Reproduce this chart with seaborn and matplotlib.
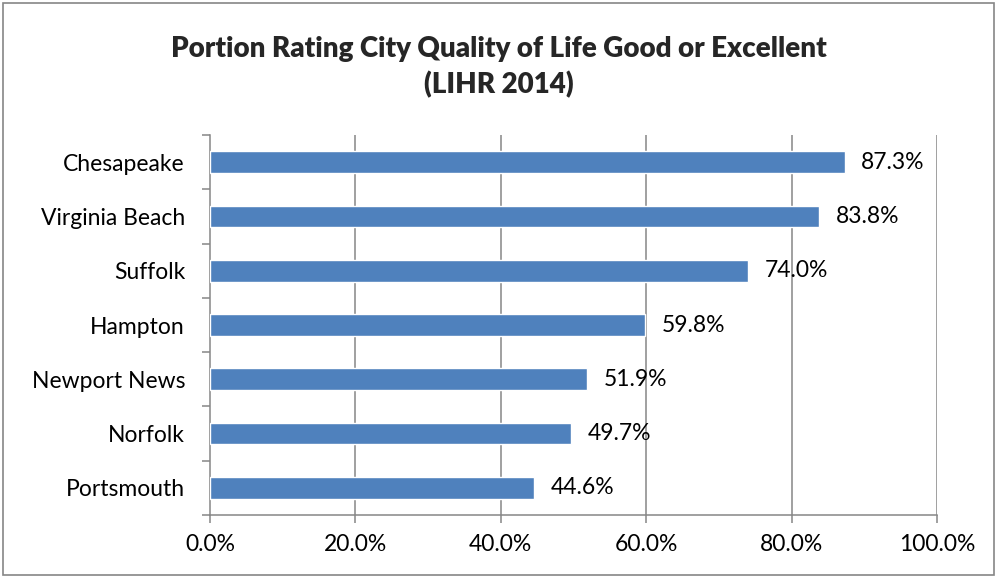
import pandas as pd
import numpy as np
import matplotlib
matplotlib.use('Agg')
import matplotlib.pyplot as plt
from matplotlib.patches import Rectangle
from matplotlib.ticker import FixedLocator, PercentFormatter
import seaborn as sns

# Data
cities = ['Chesapeake', 'Virginia Beach', 'Suffolk', 'Hampton',
          'Newport News', 'Norfolk', 'Portsmouth']
pct_good = [87.3, 83.8, 74.0, 59.8, 51.9, 49.7, 44.6]
x_ticks = [0, 20, 40, 60, 80, 100]

df = pd.DataFrame({'city': cities, 'pct': pct_good})

sns.set_theme(style='white')
plt.rcParams['font.family'] = ['Lato', 'DejaVu Sans']

bar_color = '#4F81BD'
grid_color = '#868686'

fig = plt.figure(figsize=(9.97, 5.78), dpi=100)
ax = fig.add_axes([210 / 997, 63 / 578, 727 / 997, 380 / 578])

sns.barplot(data=df, x='pct', y='city', orient='h', color=bar_color,
            width=0.4, saturation=1, ax=ax, zorder=3)

ax.set_xlim(0, 100)
ax.set_ylim(len(cities) - 0.5, -0.5)
ax.set_xticks(x_ticks)
ax.xaxis.set_major_formatter(PercentFormatter(decimals=1))
ax.set_xlabel('')
ax.set_ylabel('')

# vertical gridlines
for x in x_ticks[1:]:
    ax.axvline(x, color=grid_color, lw=1.1, zorder=1)

for side in ['top', 'right']:
    ax.spines[side].set_visible(False)
for side in ['left', 'bottom']:
    ax.spines[side].set_color(grid_color)
    ax.spines[side].set_linewidth(1.1)

# category boundary ticks on the y axis
ax.yaxis.set_minor_locator(FixedLocator(np.arange(-0.5, len(cities), 1)))
ax.tick_params(axis='y', which='major', length=0, labelsize=16.5, pad=18,
               labelcolor='black')
ax.tick_params(axis='y', which='minor', length=6, width=1.1, color=grid_color,
               direction='out', left=True)
ax.tick_params(axis='x', which='major', length=6, width=1.1, color=grid_color,
               direction='out', bottom=True, labelsize=16.5, pad=8,
               labelcolor='black')

# value labels
for i, v in enumerate(pct_good):
    ax.annotate(f'{v:.1f}%', xy=(v, i), xytext=(12, 0),
                textcoords='offset points', va='center', ha='left',
                fontsize=16.5, color='black', zorder=4)

fig.suptitle('Portion Rating City Quality of Life Good or Excellent\n(LIHR 2014)',
             x=0.5, y=0.938, fontsize=20, fontweight='heavy', linespacing=1.42)

# outer chart border
fig.patches.append(Rectangle((3 / 997, 3 / 578), 991 / 997, 572 / 578,
                             transform=fig.transFigure, fill=False,
                             edgecolor=grid_color, lw=1.2))

fig.savefig('out.png', dpi=100)
